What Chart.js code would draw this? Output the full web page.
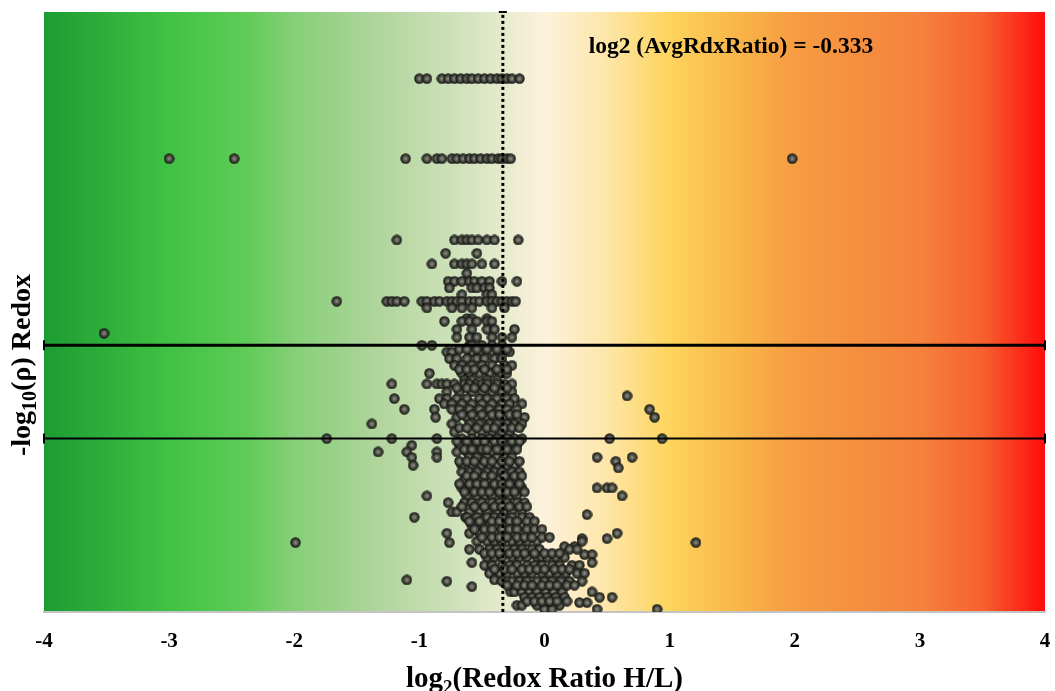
<!DOCTYPE html>
<html>
<head>
<meta charset="utf-8">
<script src="https://cdn.jsdelivr.net/npm/chart.js@4/dist/chart.umd.min.js"></script>
<style>
  html, body { margin: 0; padding: 0; background: #fff; }
  #wrap { width: 1055px; height: 691px; }
</style>
</head>
<body>
<div id="wrap"><canvas id="myChart"></canvas></div>
<script>
const ctx = document.getElementById('myChart').getContext('2d');

// x tick labels (log2 ratio)
const xTicks = [-4, -3, -2, -1, 0, 1, 2, 3, 4];
// significance thresholds: -log10(0.01), -log10(0.05)
const thresholds = [2.0, 1.301];
const avgLog2Ratio = -0.333;

// -log10(p) levels, and the log2 ratios of the proteins found at each level
const rowY = [
  4.00, 3.40, 2.79, 2.69, 2.61, 2.54, 2.48, 2.43, 2.38, 2.33,
  2.28, 2.20, 2.18, 2.12, 2.09, 2.06, 2.00, 1.95, 1.90, 1.85,
  1.79, 1.74, 1.71, 1.65, 1.62, 1.60, 1.56, 1.52, 1.46, 1.41,
  1.35, 1.30, 1.25, 1.20, 1.16, 1.13, 1.10, 1.08, 1.05, 0.99,
  0.93, 0.87, 0.82, 0.75, 0.73, 0.71, 0.65, 0.59, 0.55, 0.53,
  0.52, 0.49, 0.47, 0.43, 0.41, 0.37, 0.35, 0.29, 0.24, 0.23,
  0.19, 0.15, 0.11, 0.07, 0.05, 0.02,
  1.97, 1.82, 1.68, 1.48, 1.38, 1.28, 1.22, 1.13, 1.02, 0.96,
  0.90, 0.79, 0.68, 0.62, 0.56, 0.44, 0.32, 0.20, 0.08
];
const rowX = [
  [-1.0, -0.94, -0.82, -0.77, -0.72, -0.67, -0.62, -0.58, -0.53, -0.48, -0.43, -0.38, -0.34, -0.30, -0.26, -0.2],
  [-3.0, -2.48, -1.11, -0.94, -0.86, -0.82, -0.74, -0.70, -0.65, -0.60, -0.56, -0.51, -0.46, -0.42, -0.37, -0.34, -0.30, -0.27, 1.98],
  [-1.18, -0.72, -0.66, -0.62, -0.58, -0.53, -0.46, -0.40, -0.21],
  [-0.79, -0.54],
  [-0.90, -0.72, -0.66, -0.62, -0.58, -0.50, -0.40],
  [-0.62],
  [-0.77, -0.72, -0.66, -0.60, -0.56, -0.50, -0.44, -0.34, -0.22],
  [-0.76, -0.58, -0.54, -0.48, -0.44],
  [-0.66, -0.46, -0.42],
  [-1.66, -1.26, -1.22, -1.18, -1.12, -0.98, -0.94, -0.88, -0.84, -0.78, -0.74, -0.70, -0.66, -0.60, -0.56, -0.52, -0.46, -0.42, -0.38, -0.34, -0.30, -0.26, -0.23],
  [-0.94, -0.74, -0.66, -0.58, -0.42, -0.32],
  [-0.62, -0.58, -0.46],
  [-0.80, -0.66, -0.60, -0.54, -0.46, -0.42],
  [-0.70, -0.58, -0.46, -0.40, -0.24],
  [-3.52],
  [-0.70, -0.60, -0.54, -0.42, -0.34, -0.26],
  [-0.98, -0.90, -0.60, -0.58, -0.50, -0.42, -0.34],
  [-0.78, -0.74, -0.58, -0.52, -0.42, -0.34, -0.28],
  [-0.76, -0.70, -0.62, -0.54, -0.48, -0.40, -0.34],
  [-0.72, -0.66, -0.58, -0.50, -0.42, -0.32, -0.26],
  [-0.92, -0.66, -0.60, -0.52, -0.44, -0.36, -0.30],
  [-0.64, -0.58, -0.46, -0.38],
  [-1.22, -0.94, -0.86, -0.82, -0.78, -0.72, -0.64, -0.60, -0.54, -0.50, -0.46, -0.38, -0.32, -0.26],
  [-0.78, -0.68, -0.58, -0.50, -0.42, -0.34, -0.26],
  [0.66],
  [-1.20, -0.84, -0.78, -0.70, -0.62, -0.52, -0.46, -0.38, -0.30, -0.24],
  [-0.80, -0.74, -0.66, -0.58, -0.50, -0.42, -0.34, -0.28, -0.18],
  [-1.12, -0.88, -0.74, -0.68, -0.60, -0.52, -0.44, -0.36, -0.30, -0.22, 0.84],
  [-0.87, -0.70, -0.62, -0.54, -0.46, -0.40, -0.32, -0.26, -0.16, 0.88],
  [-1.38, -0.74, -0.60, -0.52, -0.44, -0.38, -0.30, -0.24, -0.18],
  [-0.72, -0.58, -0.50, -0.42, -0.34, -0.28],
  [-1.74, -1.22, -0.86, -0.66, -0.58, -0.50, -0.44, -0.38, -0.30, -0.24, -0.18, 0.52, 0.94],
  [-1.06, -0.68, -0.60, -0.52, -0.44, -0.36, -0.30, -0.22],
  [-1.33, -1.10, -0.86, -0.70, -0.62, -0.56, -0.48, -0.42, -0.34, -0.26],
  [-1.06, -0.86, -0.60, -0.54, -0.46, -0.38, -0.32, -0.26, 0.42, 0.70],
  [0.57],
  [-1.05, -0.66, -0.58, -0.50, -0.44, -0.38, -0.30, -0.24],
  [0.59],
  [-0.66, -0.60, -0.54, -0.46, -0.40, -0.34, -0.26, -0.20],
  [-0.64, -0.58, -0.50, -0.44, -0.36, -0.30, -0.22],
  [-0.66, -0.58, -0.52, -0.46, -0.38, -0.32, -0.26, -0.18, 0.42, 0.50, 0.54],
  [-0.94, -0.62, -0.54, -0.48, -0.42, -0.34, -0.28, -0.22, 0.62],
  [-0.77, -0.64, -0.58, -0.50, -0.42, -0.36, -0.30, -0.22, -0.16],
  [-0.74, -0.70, -0.60, -0.52, -0.46, -0.38, -0.32, -0.26, -0.18],
  [0.34],
  [-1.04, -0.63, -0.62, -0.54, -0.46, -0.40, -0.34, -0.26, -0.18, -0.12],
  [-0.58, -0.50, -0.44, -0.38, -0.30, -0.24, -0.18],
  [-0.78, -0.60, -0.52, -0.46, -0.38, -0.32, -0.26, -0.18, -0.12, 0.58],
  [0.30, 0.50],
  [-0.54, -0.46, -0.40, -0.34, -0.26, -0.20, -0.14, -0.06, 0.30],
  [-1.99, -0.76, 1.21],
  [0.24, 0.16],
  [-0.60, -0.52, -0.44, -0.38, -0.30, -0.24, -0.18, -0.10, -0.04, 0.20, 0.26],
  [0.32, 0.38],
  [-0.46, -0.40, -0.34, -0.26, -0.20, -0.14, -0.06, -0.02, 0.02, 0.09, 0.16],
  [-0.58, 0.38],
  [-0.48, -0.42, -0.34, -0.28, -0.22, -0.14, -0.08, -0.02, 0.06, 0.12, 0.22, 0.28],
  [-0.44, -0.36, -0.30, -0.22, -0.16, -0.10, -0.02, 0.04, 0.10, 0.17, 0.26, 0.32],
  [-1.10, -0.40],
  [-0.78, -0.34, -0.26, -0.20, -0.14, -0.06, 0.0, 0.06, 0.13, 0.20, 0.30],
  [-0.58],
  [-0.27, -0.24, -0.18, -0.12, -0.06, 0.01, 0.07, 0.14, 0.38],
  [-0.16, -0.10, -0.04, 0.02, 0.09, 0.16, 0.44, 0.54],
  [0.28, 0.34],
  [-0.22, -0.18, -0.06, 0.0, 0.06, 0.12],
  [0.0, 0.06, 0.42, 0.90],
  // denser core of the cloud
  [-0.68, -0.62, -0.54, -0.46, -0.38, -0.30],
  [-0.68, -0.62, -0.56, -0.48, -0.38, -0.30],
  [-0.70, -0.62, -0.56, -0.48, -0.40, -0.30],
  [-0.66, -0.58, -0.50, -0.42, -0.36, -0.28, -0.22],
  [-0.68, -0.62, -0.54, -0.46, -0.40, -0.32, -0.26, -0.20],
  [-0.70, -0.62, -0.54, -0.48, -0.40, -0.34, -0.26, -0.20],
  [-0.64, -0.58, -0.50, -0.46, -0.38, -0.30, -0.22],
  [-0.68, -0.62, -0.56, -0.48, -0.42, -0.34, -0.28, -0.20],
  [-0.62, -0.56, -0.48, -0.42, -0.32, -0.24, -0.18],
  [-0.68, -0.60, -0.54, -0.48, -0.40, -0.34, -0.28, -0.20],
  [-0.64, -0.56, -0.50, -0.44, -0.36, -0.30, -0.24, -0.16],
  [-0.66, -0.56, -0.48, -0.40, -0.34, -0.28, -0.20, -0.14],
  [-0.60, -0.52, -0.42, -0.36, -0.28, -0.22, -0.14, -0.08],
  [-0.56, -0.48, -0.42, -0.34, -0.28, -0.22, -0.14, -0.08, -0.02],
  [-0.50, -0.42, -0.36, -0.30, -0.22, -0.16, -0.10, -0.02, 0.04],
  [-0.48, -0.42, -0.36, -0.28, -0.22, -0.16, -0.08, 0.0, 0.06, 0.12],
  [-0.40, -0.32, -0.26, -0.18, -0.12, -0.06, 0.0, 0.08, 0.14, 0.20],
  [-0.30, -0.22, -0.16, -0.10, -0.02, 0.04, 0.10, 0.18, 0.24],
  [-0.14, -0.08, -0.02, 0.04, 0.10, 0.18]
];

const points = [];
rowY.forEach((y, i) => rowX[i].forEach(x => points.push({ x: x, y: y })));

// shaded marker like the original
const marker = document.createElement('canvas');
marker.width = 11; marker.height = 11;
(function () {
  const m = marker.getContext('2d');
  const g = m.createRadialGradient(5.5, 5.5, 0.5, 5.5, 5.5, 5);
  g.addColorStop(0, '#8a8c80');
  g.addColorStop(0.5, '#4a4c44');
  g.addColorStop(1, '#262722');
  m.beginPath();
  m.arc(5.5, 5.5, 4.6, 0, Math.PI * 2);
  m.fillStyle = g;
  m.fill();
  m.lineWidth = 1.2;
  m.strokeStyle = '#1a1a17';
  m.stroke();
})();

// draws a run of [text, size, dy] pieces centred on (cx, cy)
function drawRich(c, parts, cx, cy) {
  let w = 0;
  parts.forEach(p => { c.font = 'bold ' + p[1] + 'px "Liberation Serif"'; w += c.measureText(p[0]).width; });
  let x = cx - w / 2;
  c.textAlign = 'left';
  c.textBaseline = 'alphabetic';
  parts.forEach(p => {
    c.font = 'bold ' + p[1] + 'px "Liberation Serif"';
    c.fillText(p[0], x, cy + p[2]);
    x += c.measureText(p[0]).width;
  });
}

const backdrop = {
  id: 'backdrop',
  beforeDraw(chart) {
    const { ctx, chartArea: a, scales: { x } } = chart;
    const g = ctx.createLinearGradient(a.left, 0, a.right, 0);
    const stops = [
      [-4, '#1c9c32'], [-3, '#40c244'], [-2.4, '#5ecb56'], [-2, '#86cf78'],
      [-1.3, '#b2d59e'], [-0.6, '#d4e4c0'], [0, '#fdf2dc'], [0.5, '#fde6a8'],
      [1, '#fdd45c'], [1.5, '#f9b84a'], [2, '#f69c42'], [3, '#f5823c'],
      [3.5, '#f6612f'], [4, '#ff0c0c']
    ];
    stops.forEach(([v, c]) => g.addColorStop((x.getPixelForValue(v) - a.left) / (a.right - a.left), c));
    ctx.save();
    ctx.fillStyle = g;
    ctx.fillRect(a.left, a.top, a.right - a.left, a.bottom - a.top);
    ctx.restore();
  },
  afterDraw(chart) {
    const { ctx, chartArea: a, scales: { x, y } } = chart;
    ctx.save();
    ctx.fillStyle = '#000';
    ctx.font = 'bold 23.5px "Liberation Serif"';
    ctx.textAlign = 'center';
    ctx.textBaseline = 'middle';
    ctx.fillText('log2 (AvgRdxRatio) = -0.333', x.getPixelForValue(1.49), y.getPixelForValue(4.24));
    // x axis title
    drawRich(ctx, [['log', 29, 0], ['2', 19, 6], ['(Redox Ratio H/L)', 29, 0]], x.getPixelForValue(0), 687);
    // y axis title
    ctx.translate(30, 365);
    ctx.rotate(-Math.PI / 2);
    drawRich(ctx, [['-log', 28, 0], ['10', 20, 6], ['(\u03c1) Redox', 28, 0]], 0, 0);
    ctx.restore();
  }
};

new Chart(ctx, {
  type: 'scatter',
  data: {
    datasets: [
      {
        label: 'p = 0.01',
        type: 'line',
        data: [{ x: -4, y: thresholds[0] }, { x: 4, y: thresholds[0] }],
        borderColor: '#000',
        borderWidth: 3,
        pointStyle: 'line',
        rotation: 90,
        pointRadius: 5,
        pointBorderWidth: 2,
        pointBorderColor: '#000',
        clip: false,
        order: 0,
      },
      {
        label: 'p = 0.05',
        type: 'line',
        data: [{ x: -4, y: thresholds[1] }, { x: 4, y: thresholds[1] }],
        borderColor: '#000',
        borderWidth: 2,
        pointStyle: 'line',
        rotation: 90,
        pointRadius: 5,
        pointBorderWidth: 2,
        pointBorderColor: '#000',
        clip: false,
        order: 0,
      },
      {
        label: 'AvgRdxRatio',
        type: 'line',
        data: [{ x: avgLog2Ratio, y: 0 }, { x: avgLog2Ratio, y: 4.5 }],
        borderColor: '#000',
        borderWidth: 3,
        borderDash: [3, 3],
        pointStyle: 'line',
        pointRadius: [0, 4],
        pointBorderWidth: 2,
        pointBorderColor: '#000',
        clip: false,
        order: 0,
      },
      {
        label: 'Proteins',
        data: points,
        pointStyle: marker,
        pointRadius: 4.5,
        order: 1,
      }
    ]
  },
  options: {
    responsive: true,
    maintainAspectRatio: false,
    animation: false,
    layout: { padding: { left: 44, right: 10, top: 12, bottom: 27 } },
    plugins: {
      legend: { display: false },
      tooltip: { enabled: false },
    },
    scales: {
      x: {
        type: 'linear',
        min: -4,
        max: 4,
        afterBuildTicks: (axis) => { axis.ticks = xTicks.map(v => ({ value: v })); },
        grid: { display: false, tickLength: 8 },
        border: { color: '#c4c4c4', width: 2 },
        ticks: {
          color: '#000',
          padding: 0,
          font: { family: 'Liberation Serif', size: 21, weight: 'bold', lineHeight: 2.1 },
        },
      },
      y: {
        min: 0,
        max: 4.5,
        display: false,
      },
    },
  },
  plugins: [backdrop],
});
</script>
</body>
</html>
